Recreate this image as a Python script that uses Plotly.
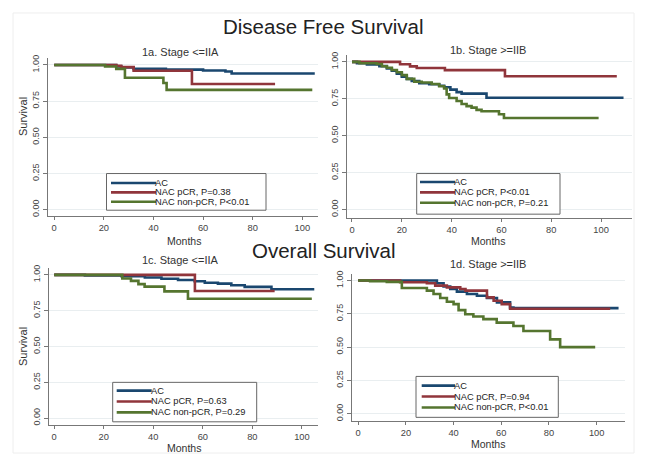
import plotly.graph_objects as go

# The page body keeps the browser's default 8 px margin, so the figure is drawn
# 8 px right/down of the window corner; it is sized to fill the rest exactly.
OX, OY = 8, 8
W, H = 640, 448

# ---------------- data ----------------
series_names = ["AC", "NAC pCR", "NAC non-pCR"]
colors = ["#1a476f", "#90353b", "#55752f"]

main_titles = ["Disease Free Survival", "Overall Survival"]
panel_titles = ["1a. Stage <=IIA", "1b. Stage >=IIB", "1c. Stage <=IIA", "1d. Stage >=IIB"]
legend_labels = [
    ["AC", "NAC pCR, P=0.38", "NAC non-pCR, P<0.01"],
    ["AC", "NAC pCR, P<0.01", "NAC non-pCR, P=0.21"],
    ["AC", "NAC pCR, P=0.63", "NAC non-pCR, P=0.29"],
    ["AC", "NAC pCR, P=0.94", "NAC non-pCR, P<0.01"],
]
x_title = "Months"
y_title = "Survival"
y_ticks = [0, 0.25, 0.5, 0.75, 1.0]
y_ticklabels = ["0.00", "0.25", "0.50", "0.75", "1.00"]
x_ticks = [0, 20, 40, 60, 80, 100]

# 1a. DFS, Stage <= IIA
a_ac_t = [0, 25, 27, 32, 45, 60, 69, 71.5, 105]
a_ac_s = [1.0, 0.99, 0.982, 0.973, 0.968, 0.962, 0.955, 0.941, 0.941]
a_pcr_t = [0, 25, 27, 32, 55.5, 89]
a_pcr_s = [1.0, 0.995, 0.985, 0.96, 0.868, 0.868]
a_non_t = [0, 20.5, 25, 28.5, 44, 45.3, 104]
a_non_s = [1.0, 0.989, 0.973, 0.912, 0.875, 0.828, 0.828]

# 1b. DFS, Stage >= IIB
b_ac_t = [0, 2, 6, 11, 14, 16, 18, 20, 22, 24, 27, 31, 35, 37, 39.5, 42, 44, 54, 109]
b_ac_s = [1.0, 0.99, 0.982, 0.971, 0.955, 0.94, 0.92, 0.9, 0.885, 0.87, 0.855, 0.848,
          0.838, 0.828, 0.812, 0.795, 0.785, 0.757, 0.757]
b_pcr_t = [0, 19.3, 23.3, 26, 37.3, 61.4, 106.3]
b_pcr_s = [1.0, 0.984, 0.969, 0.958, 0.944, 0.902, 0.902]
b_non_t = [0, 3, 10, 12, 14, 16, 18, 20, 22, 25, 28, 32, 35, 37, 38, 39, 42, 44, 46,
           48, 50, 52, 59, 61, 99]
b_non_s = [1.0, 0.99, 0.985, 0.97, 0.96, 0.945, 0.93, 0.91, 0.885, 0.865, 0.86, 0.85,
           0.835, 0.82, 0.78, 0.755, 0.735, 0.715, 0.70, 0.69, 0.675, 0.665, 0.645,
           0.62, 0.62]

# 1c. OS, Stage <= IIA
c_ac_t = [0, 12.4, 27.2, 36.6, 43.3, 50, 56.7, 60.8, 66.1, 71.5, 76.9, 87.7, 105]
c_ac_s = [1.0, 0.995, 0.99, 0.982, 0.973, 0.964, 0.955, 0.945, 0.939, 0.927, 0.916,
          0.90, 0.90]
c_pcr_t = [0, 56.8, 89]
c_pcr_s = [1.0, 0.887, 0.887]
c_non_t = [0, 27.5, 31, 34, 36.5, 44.5, 54, 104]
c_non_s = [1.0, 0.975, 0.958, 0.935, 0.918, 0.885, 0.833, 0.833]

# 1d. OS, Stage >= IIB
d_ac_t = [0, 33, 35.8, 38.6, 41.4, 45.6, 49.8, 54, 58.2, 63.7, 65.1, 109.2]
d_ac_s = [1.0, 0.98, 0.955, 0.937, 0.917, 0.899, 0.886, 0.869, 0.836, 0.798, 0.793,
          0.793]
d_pcr_t = [0, 17.6, 28.8, 32.3, 37.2, 42.8, 45, 54, 56.8, 60.2, 63.7, 105.7]
d_pcr_s = [1.0, 0.987, 0.98, 0.962, 0.949, 0.937, 0.924, 0.874, 0.848, 0.823, 0.788,
           0.788]
d_non_t = [0, 5, 12, 18.3, 28.8, 31.6, 34.4, 37.2, 40, 42.1, 44.9, 48.3, 52.5, 58.1,
           65.1, 69.3, 80.5, 84.7, 99.4]
d_non_s = [1.0, 0.995, 0.99, 0.944, 0.924, 0.899, 0.869, 0.841, 0.823, 0.778, 0.747,
           0.73, 0.71, 0.684, 0.659, 0.621, 0.558, 0.5, 0.5]

panel_data = [
    [(a_ac_t, a_ac_s), (a_pcr_t, a_pcr_s), (a_non_t, a_non_s)],
    [(b_ac_t, b_ac_s), (b_pcr_t, b_pcr_s), (b_non_t, b_non_s)],
    [(c_ac_t, c_ac_s), (c_pcr_t, c_pcr_s), (c_non_t, c_non_s)],
    [(d_ac_t, d_ac_s), (d_pcr_t, d_pcr_s), (d_non_t, d_non_s)],
]

# ---------------- layout (window pixels) ----------------
layout_px = [
    dict(dx=(48, 318), dy=(55, 215), xr=(-2.5, 106.3), yr=(-0.045, 1.051),
         title=(180, 49), xt=(184, 240), yt=(23, 115),
         box=(106.5, 172, 266, 209), key=(111, 156), rows=(181.5, 191, 200.5)),
    dict(dx=(347, 632), dy=(52, 216.5), xr=(-2.0, 112.4), yr=(-0.055, 1.049),
         title=(488, 47), xt=(488, 240), yt=None,
         box=(416.7, 172, 560, 213), key=(420, 455), rows=(180.5, 191, 201.5)),
    dict(dx=(49, 318), dy=(267, 426), xr=(-2.1, 106.5), yr=(-0.05, 1.05),
         title=(180, 259), xt=(184, 449), yt=(23, 347),
         box=(112.7, 382.7, 256.7, 422.5), key=(116.7, 151.7), rows=(391, 402, 413)),
    dict(dx=(352, 625), dy=(273, 422), xr=(-2.6, 111.9), yr=(-0.057, 1.052),
         title=(488, 263), xt=(488, 445), yt=None,
         box=(416, 376.7, 558.3, 418), key=(421.7, 455), rows=(386, 397, 408)),
]

FONT = "Arial, Liberation Sans, sans-serif"


def px(x):
    return (x - OX) / W


def py(y):
    return 1 - (y - OY) / H


fig = go.Figure()
shapes = []
annotations = []

for i, (lp, data) in enumerate(zip(layout_px, panel_data)):
    n = "" if i == 0 else str(i + 1)
    for k, (t, s) in enumerate(data):
        fig.add_trace(go.Scatter(
            x=t, y=s, mode="lines", line=dict(color=colors[k], width=2.6, shape="hv"),
            name=legend_labels[i][k], showlegend=False,
            xaxis="x" + n, yaxis="y" + n))
    xa = dict(domain=[px(lp["dx"][0]), px(lp["dx"][1])], range=list(lp["xr"]),
              anchor="y" + n, tickvals=x_ticks, ticks="outside", ticklen=3,
              tickcolor="#777", showline=True, linecolor="#777", linewidth=1,
              showgrid=False, zeroline=False,
              tickfont=dict(family=FONT, size=9.3, color="#444"))
    ya = dict(domain=[py(lp["dy"][1]), py(lp["dy"][0])], range=list(lp["yr"]),
              anchor="x" + n, tickvals=y_ticks, ticktext=y_ticklabels, tickangle=-90,
              ticks="outside", ticklen=4, tickcolor="#777", showline=True,
              linecolor="#777", linewidth=1, showgrid=True, gridcolor="#e9eef0",
              gridwidth=1, zeroline=False,
              tickfont=dict(family=FONT, size=9, color="#444"))
    fig.update_layout(**{"xaxis" + n: xa, "yaxis" + n: ya})

    # panel title
    annotations.append(dict(x=px(lp["title"][0]), y=py(lp["title"][1]), xref="paper",
                            yref="paper", text=panel_titles[i], showarrow=False,
                            xanchor="center", yanchor="middle",
                            font=dict(family=FONT, size=11, color="#333")))
    # axis titles
    annotations.append(dict(x=px(lp["xt"][0]), y=py(lp["xt"][1]), xref="paper",
                            yref="paper", text=x_title, showarrow=False,
                            xanchor="center", yanchor="middle", borderpad=0,
                            font=dict(family=FONT, size=10.5, color="#333")))
    if lp["yt"] is not None:
        annotations.append(dict(x=px(lp["yt"][0]), y=py(lp["yt"][1]), xref="paper",
                                yref="paper", text=y_title, showarrow=False,
                                textangle=-90, xanchor="center", yanchor="middle",
                                font=dict(family=FONT, size=11, color="#333")))
    # legend box
    bx0, by0, bx1, by1 = lp["box"]
    shapes.append(dict(type="rect", xref="paper", yref="paper", x0=px(bx0), x1=px(bx1),
                       y0=py(by1), y1=py(by0), line=dict(color="#666", width=1),
                       fillcolor="white", layer="above"))
    for k, ry in enumerate(lp["rows"]):
        shapes.append(dict(type="line", xref="paper", yref="paper",
                           x0=px(lp["key"][0]), x1=px(lp["key"][1]), y0=py(ry), y1=py(ry),
                           line=dict(color=colors[k], width=2.6), layer="above"))
        annotations.append(dict(x=px(lp["key"][1]), y=py(ry), xref="paper", yref="paper",
                                text=legend_labels[i][k], showarrow=False, xanchor="left",
                                yanchor="middle", xshift=-2, borderpad=0,
                                font=dict(family=FONT, size=9.3, color="#222")))

# main titles
annotations.append(dict(x=px(323), y=py(24), xref="paper", yref="paper",
                        text=main_titles[0], showarrow=False, xanchor="center",
                        yanchor="middle", font=dict(family=FONT, size=20.5, color="#222")))
annotations.append(dict(x=px(324), y=py(250), xref="paper", yref="paper",
                        text=main_titles[1], showarrow=False, xanchor="center",
                        yanchor="middle", font=dict(family=FONT, size=20.5, color="#222")))

# faint outer frame
shapes.append(dict(type="rect", xref="paper", yref="paper", x0=px(13), x1=px(634),
                   y0=py(454), y1=py(10), line=dict(color="#eeeeee", width=1),
                   layer="below"))

fig.update_layout(width=W, height=H, margin=dict(l=0, r=0, t=0, b=0),
                  paper_bgcolor="white", plot_bgcolor="white",
                  shapes=shapes, annotations=annotations, showlegend=False)

fig.write_html("out.html")
